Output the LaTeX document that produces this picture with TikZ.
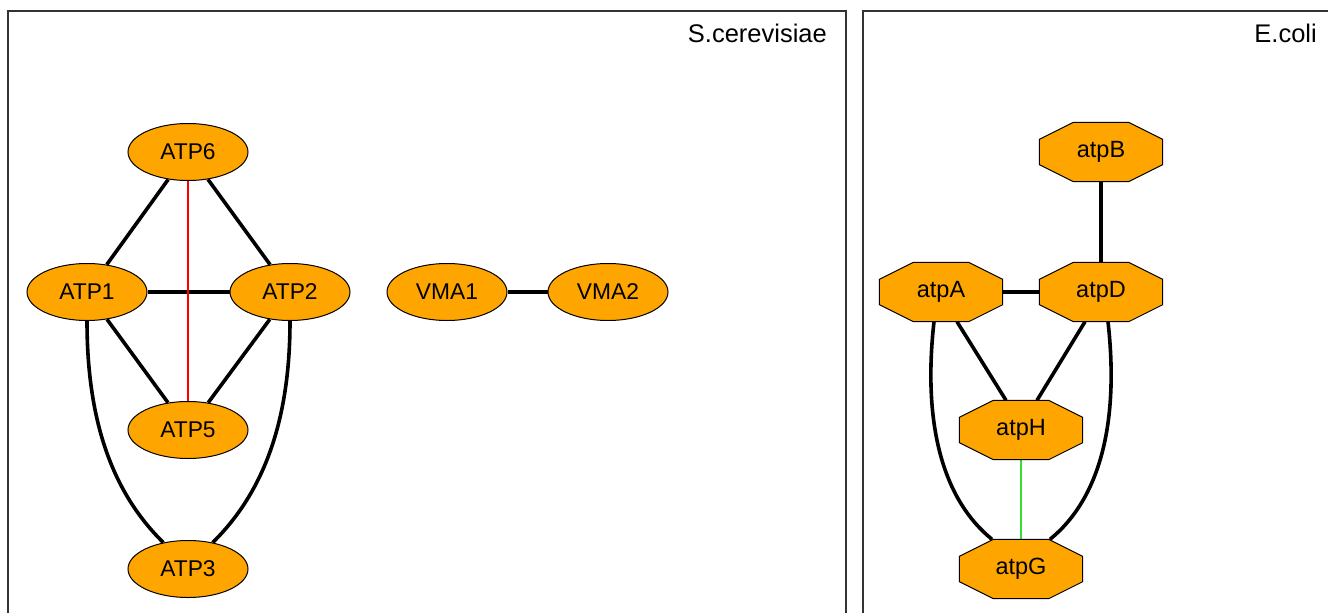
\documentclass[tikz,border=0pt]{standalone}
\usepackage{fontspec}
\setmainfont{Liberation Sans}
\usetikzlibrary{calc,shapes.geometric}
\pgfdeclarelayer{edges}
\pgfdeclarelayer{octs}
\pgfsetlayers{edges,octs,main}
\definecolor{nodeorange}{HTML}{FFA500}
\definecolor{framegray}{HTML}{333333}
\definecolor{linkred}{HTML}{FF0000}
\definecolor{linkgreen}{HTML}{33DD33}

% octagonal outline around a rectangular node
\newcommand{\octoutline}[1]{%
  \begin{pgfonlayer}{octs}
    \filldraw[octline]
      ($(#1.north west)+(34,0)$) -- ($(#1.north east)+(-34,0)$) --
      ($(#1.north east)+(0,17)$) -- ($(#1.south east)+(0,-17)$) --
      ($(#1.south east)+(-34,0)$) -- ($(#1.south west)+(34,0)$) --
      ($(#1.south west)+(0,-17)$) -- ($(#1.north west)+(0,17)$) -- cycle;
  \end{pgfonlayer}}

\begin{document}
\begin{tikzpicture}[x=1pt,y=-1pt,
  gene/.style={ellipse, draw=black, line width=1pt, fill=nodeorange,
    minimum width=120pt, minimum height=57pt, inner sep=0pt,
    font=\fontsize{22.8}{24}\selectfont},
  octbox/.style={rectangle, minimum width=123pt, minimum height=59pt,
    inner sep=0pt, font=\fontsize{23.5}{24}\selectfont},
  octline/.style={draw=black, line width=1pt, fill=nodeorange, line join=miter},
  panel/.style={draw=framegray, line width=1.4pt},
  title/.style={anchor=base east, inner sep=0pt, font=\fontsize{25.5}{27}\selectfont},
  link/.style={line width=3.6pt, black},
  redlink/.style={line width=1.2pt, linkred},
  greenlink/.style={line width=1.2pt, linkgreen}]
\useasboundingbox (0,0) rectangle (1328,613);
\begin{pgfonlayer}{edges}
  \fill[white] (0,0) rectangle (1328,613);
\end{pgfonlayer}

% panels
\draw[panel] (8,630) -- (8,11) -- (846,11) -- (846,630);
\draw[panel] (863,630) -- (863,11) -- (1345,11);
\node[title] (tsc) at (827,42) {S.cerevisiae};
\node[title] (tec) at (1317,42) {E.coli};

% S.cerevisiae network
\node[gene] (ATP6) at (188,152) {ATP6};
\node[gene] (ATP1) at (87,292) {ATP1};
\node[gene] (ATP2) at (290,292) {ATP2};
\node[gene] (ATP5) at (188,430) {ATP5};
\node[gene] (ATP3) at (188,569) {ATP3};
\node[gene] (VMA1) at (447,292) {VMA1};
\node[gene] (VMA2) at (608,292) {VMA2};

% E.coli network
\node[octbox] (atpB) at (1101,152) {atpB};
\node[octbox] (atpA) at (941,292) {atpA};
\node[octbox] (atpD) at (1101,292) {atpD};
\node[octbox] (atpH) at (1021,430) {atpH};
\node[octbox] (atpG) at (1021,569) {atpG};
\octoutline{atpB}
\octoutline{atpA}
\octoutline{atpD}
\octoutline{atpH}
\octoutline{atpG}

\begin{pgfonlayer}{edges}
  \draw[link] (ATP6) -- (ATP1);
  \draw[link] (ATP6) -- (ATP2);
  \draw[link] (ATP1) -- (ATP2);
  \draw[link] (ATP1) -- (ATP5);
  \draw[link] (ATP2) -- (ATP5);
  \draw[link] (ATP1.south) .. controls +(0,98) and +(-52,-51) .. (ATP3.133);
  \draw[link] (ATP2.south) .. controls +(0,98) and +(52,-51) .. (ATP3.47);
  \draw[redlink] (ATP6) -- (ATP5);
  \draw[link] (VMA1) -- (VMA2);

  \draw[link] (atpB) -- (atpD);
  \draw[link] (atpA) -- (atpD);
  \draw[link] ($(atpA.south)+(16,0)$) -- ($(atpH.north)+(-15,0)$);
  \draw[link] ($(atpD.south)+(-16,0)$) -- ($(atpH.north)+(16,0)$);
  \draw[link] ($(atpA.south)+(-7,0)$) .. controls +(-12,107) and +(-47,-38) .. ($(atpG.north)+(-29,0)$);
  \draw[link] ($(atpD.south)+(7,0)$) .. controls +(12,107) and +(47,-38) .. ($(atpG.north)+(29,0)$);
  \draw[greenlink] (atpH) -- (atpG);
\end{pgfonlayer}
\end{tikzpicture}
\end{document}
